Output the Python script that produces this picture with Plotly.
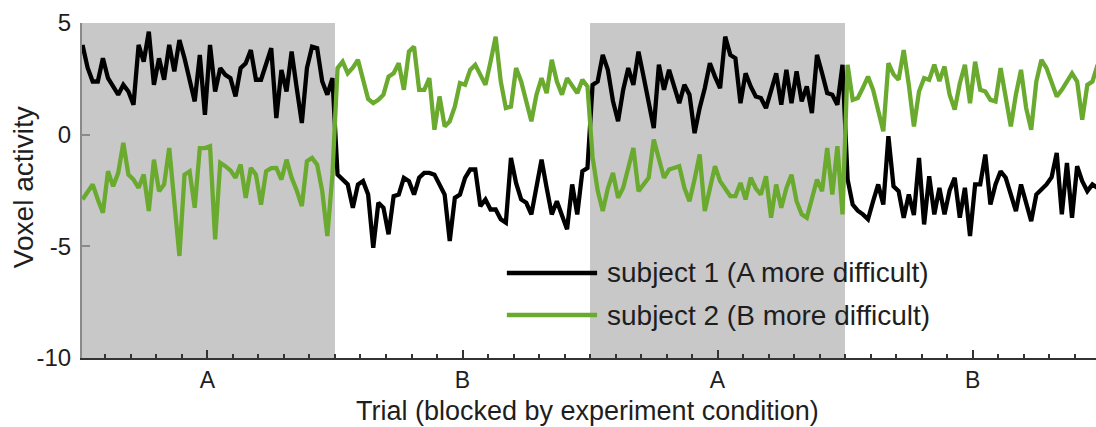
import plotly.graph_objects as go

# ---- data ----
conditions = ["A", "B", "A", "B"]
trials_per_block = 50

subject1_blockA1 = [4.02, 3.0, 2.38, 2.38, 3.42, 2.53, 2.16, 1.79, 2.23, 1.93, 1.34, 4.02, 3.27, 4.61, 2.23,
                    3.42, 2.46, 4.02, 2.83, 4.24, 3.42, 2.4, 1.49, 3.57, 0.89, 4.02, 1.93, 2.98, 2.68, 2.53,
                    1.71, 2.98, 3.2, 3.79, 2.46, 2.46, 3.2, 3.87, 0.74, 2.90, 1.93, 3.72, 2.08, 0.52, 2.98,
                    3.94, 3.87, 2.38, 1.79, 2.53]
subject1_blockB1 = [-1.79, -2.0, -2.23, -3.27, -2.23, -2.08, -2.68, -5.06, -3.05, -3.27, -4.46, -2.75, -2.68,
                    -1.93, -2.08, -2.68, -1.93, -1.71, -1.71, -1.79, -2.23, -2.68, -4.76, -2.83, -2.68, -1.93,
                    -1.56, -1.56, -3.20, -2.90, -3.35, -3.35, -3.79, -3.94, -1.04, -2.16, -2.90, -3.05, -3.57,
                    -2.23, -1.12, -2.38, -3.57, -2.98, -3.57, -4.24, -2.23, -3.57, -1.64, -1.49]
subject1_blockA2 = [2.23, 2.38, 3.57, 2.90, 1.5, 0.60, 2.0, 2.98, 2.23, 3.72, 2.60, 1.5, 0.30, 3.13, 2.01,
                    2.90, 2.2, 1.41, 2.23, 1.79, 0.07, 1.2, 2.08, 3.20, 2.6, 2.08, 4.39, 3.57, 3.42, 1.41,
                    2.75, 2.16, 1.71, 1.64, 1.19, 2.0, 2.75, 1.34, 2.90, 1.41, 2.83, 1.49, 2.16, 0.97, 3.57,
                    2.75, 1.86, 1.79, 1.34, 3.13]
subject1_blockB2 = [-2.0, -3.13, -3.4, -3.57, -3.79, -2.98, -2.23, -3.13, -0.07, -2.31, -2.53, -3.72, -2.68,
                    -3.60, -1.04, -4.02, -1.86, -3.57, -2.38, -3.57, -2.5, -1.93, -3.72, -2.38, -4.54, -2.23,
                    -2.23, -0.89, -3.13, -2.23, -1.64, -1.93, -2.68, -3.42, -2.23, -2.98, -3.87, -2.68, -2.46,
                    -2.23, -1.9, -0.82, -3.57, -1.27, -3.72, -1.41, -2.08, -2.53, -2.23, -2.38]

subject2_blockA1 = [-2.90, -2.6, -2.23, -2.9, -3.50, -1.64, -2.31, -1.71, -0.37, -1.79, -2.01, -2.38, -1.79,
                    -3.42, -1.12, -2.53, -2.23, -0.60, -2.9, -5.43, -1.79, -1.64, -3.27, -0.60, -0.60, -0.52,
                    -4.69, -1.26, -1.41, -1.6, -1.93, -1.34, -2.83, -1.49, -1.79, -3.13, -1.64, -1.5, -1.49,
                    -2.01, -1.12, -1.93, -2.5, -3.20, -1.19, -1.04, -1.34, -2.53, -4.54, -1.79]
subject2_blockB1 = [2.98, 3.27, 2.75, 3.0, 3.35, 2.4, 1.6, 1.41, 1.56, 1.79, 2.60, 2.75, 3.20, 2.01, 3.72,
                    3.94, 2.01, 2.01, 2.53, 0.22, 1.71, 0.37, 0.60, 1.26, 2.31, 2.23, 2.90, 3.13, 2.68, 2.23,
                    3.27, 4.39, 2.38, 1.19, 1.26, 2.98, 2.38, 1.49, 0.60, 1.79, 2.53, 1.86, 3.35, 2.38, 1.79,
                    2.53, 2.23, 1.86, 2.46, 2.16]
subject2_blockA2 = [-1.0, -2.5, -3.42, -2.4, -1.71, -2.83, -2.38, -1.5, -0.60, -2.53, -2.2, -1.93, -0.22,
                    -1.04, -1.93, -1.56, -1.5, -1.41, -2.38, -2.98, -2.0, -0.89, -3.42, -2.3, -1.41, -2.08,
                    -2.4, -2.75, -2.75, -2.16, -2.90, -1.93, -2.4, -2.68, -1.86, -3.72, -2.23, -3.27, -2.4,
                    -1.79, -2.98, -3.57, -3.72, -2.8, -2.01, -2.53, -0.60, -2.68, -0.52, -3.57]
subject2_blockB2 = [3.13, 1.56, 1.64, 2.1, 2.60, 2.01, 1.0, 0.15, 3.20, 2.7, 2.46, 3.79, 2.23, 0.37, 1.93,
                    2.53, 2.46, 3.13, 2.4, 3.05, 1.79, 1.12, 2.3, 3.13, 1.41, 3.27, 2.01, 1.93, 1.56, 1.49,
                    2.98, 1.6, 0.37, 1.8, 2.90, 1.2, 0.22, 2.38, 3.35, 2.98, 2.3, 1.71, 2.01, 2.4, 2.75,
                    2.38, 0.67, 2.23, 2.38, 3.13]

subject1 = subject1_blockA1 + subject1_blockB1 + subject1_blockA2 + subject1_blockB2
subject2 = subject2_blockA1 + subject2_blockB1 + subject2_blockA2 + subject2_blockB2
trial = [t + 0.5 for t in range(len(subject1))]

series_names = ["subject 1 (A more difficult)", "subject 2 (B more difficult)"]
y_ticks = [-10, -5, 0, 5]

BLACK = "#000000"
GREEN = "#6aaa2e"
SHADE = "#c9c8c9"
FONT = "Liberation Sans, Arial, sans-serif"
TEXT = "#1e1e1e"

fig = go.Figure()
fig.add_trace(go.Scatter(x=trial, y=subject1, mode="lines", name=series_names[0],
                         line=dict(color=BLACK, width=4.3), showlegend=False))
fig.add_trace(go.Scatter(x=trial, y=subject2, mode="lines", name=series_names[1],
                         line=dict(color=GREEN, width=4.3), showlegend=False))

# shaded blocks for condition A
for b, c in enumerate(conditions):
    if c == "A":
        fig.add_shape(type="rect", xref="x", yref="y",
                      x0=b * trials_per_block, x1=(b + 1) * trials_per_block,
                      y0=min(y_ticks), y1=max(y_ticks),
                      fillcolor=SHADE, line=dict(width=0), layer="below")

block_centers = [b * trials_per_block + trials_per_block / 2 for b in range(len(conditions))]

fig.update_layout(
    width=1096, height=427,
    margin=dict(l=82, r=0, t=23, b=69),
    paper_bgcolor="white", plot_bgcolor="white",
    font=dict(family=FONT, color=TEXT),
    showlegend=False,
    xaxis=dict(range=[0.4, 199.2], showgrid=False, zeroline=False,
               showline=True, linecolor="#333333", linewidth=2,
               ticks="inside", ticklen=8, tickwidth=2, tickcolor="#333333",
               tickvals=block_centers, ticktext=conditions,
               tickfont=dict(size=23, family=FONT, color=TEXT),
               ticklabelstandoff=0,
               minor=dict(ticks="inside", tickmode="linear", tick0=0, dtick=5,
                          ticklen=4, tickwidth=1.5, tickcolor="#333333")),
    yaxis=dict(range=[-10, 5], showgrid=False, zeroline=False,
               showline=True, linecolor="#8a8a8a", linewidth=2,
               ticks="inside", ticklen=8, tickwidth=1.5, tickcolor="#8a8a8a",
               tickvals=y_ticks, ticktext=[str(v) for v in y_ticks],
               tickfont=dict(size=24, family=FONT, color=TEXT),
               ticklabelstandoff=4),
)

# axis titles
fig.add_annotation(text="Trial (blocked by experiment condition)", xref="paper", yref="paper",
                   x=(587 - 82) / 1014, y=-0.158, xanchor="center", yanchor="middle",
                   showarrow=False, font=dict(size=27, family=FONT, color=TEXT))
fig.add_annotation(text="Voxel activity", xref="paper", yref="paper",
                   x=(23 - 82) / 1014, y=0.51, xanchor="center", yanchor="middle",
                   textangle=-90, showarrow=False, font=dict(size=28, family=FONT, color=TEXT))

# legend drawn manually (long line samples)
legend_rows = [(series_names[0], BLACK, 0.254), (series_names[1], GREEN, 0.128)]
for name, col, yy in legend_rows:
    fig.add_shape(type="line", xref="paper", yref="paper", x0=0.419, x1=0.508, y0=yy, y1=yy,
                  line=dict(color=col, width=4.5), layer="above")
    fig.add_annotation(text=name, xref="paper", yref="paper", x=0.516, y=yy,
                       xanchor="left", yanchor="middle", showarrow=False,
                       font=dict(size=28, family=FONT, color=TEXT))

fig.write_html("out.html")
